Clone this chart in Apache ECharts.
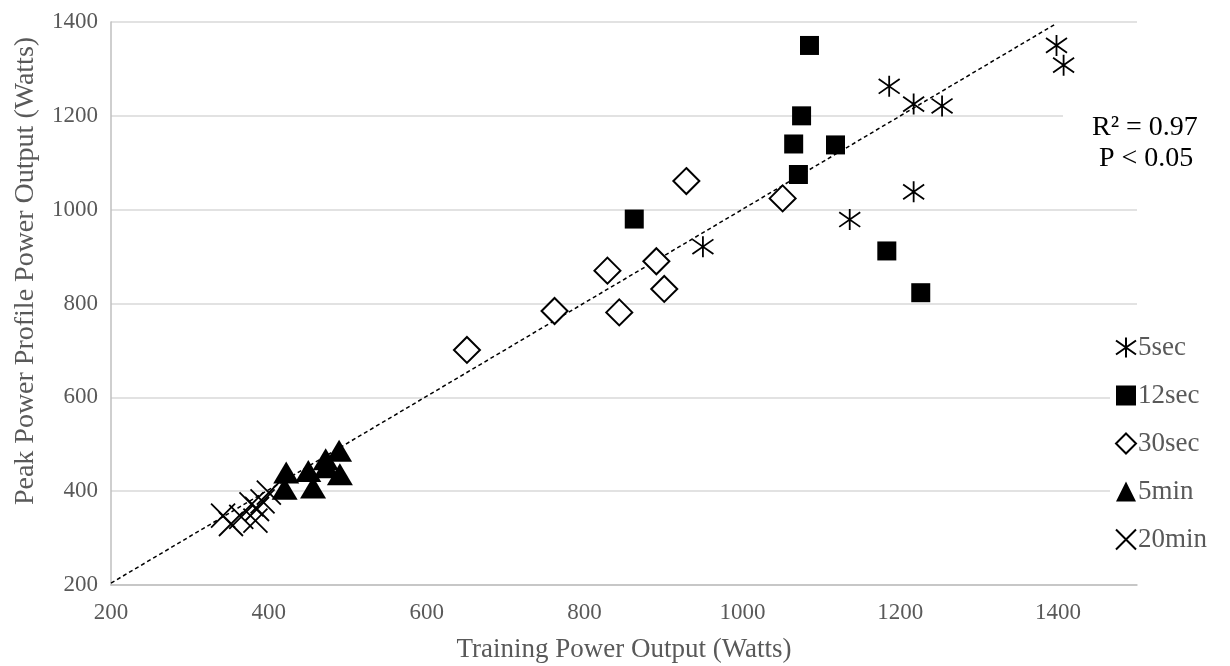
<!DOCTYPE html>
<html>
<head>
<meta charset="utf-8">
<script src="https://cdn.jsdelivr.net/npm/echarts@6/dist/echarts.min.js"></script>
<style>
html,body{margin:0;padding:0;background:#fff;}
#chart{width:1230px;height:666px;}
</style>
</head>
<body>
<div id="chart"></div>
<script>
// ---- data ----
const seriesNames = ['5sec', '12sec', '30sec', '5min', '20min'];
const sec5 = [[1398,1350],[1407,1308],[1186,1263],[1217,1225],[1253,1221],[1217,1038],[1136,979],[950,921]];
const sec12 = [[1085,1350],[1075,1200],[1065,1140],[1118,1138],[1071,1075],[863,980],[1183,912],[1226,823]];
const sec30 = [[929,1061],[1051,1024],[829,870],[891,890],[901,831],[844,781],[762,784],[651,701]];
const min5 = [[422,440],[420,405],[450,443],[456,408],[472,468],[489,486],[473,451],[490,436]];
const min20 = [[342,348],[352,330],[365,345],[383,337],[385,362],[392,378],[400,397],[378,372]];
const trendLine = [[200,204],[1396,1395]];
const xTitle = 'Training Power Output (Watts)';
const yTitle = 'Peak Power Profile Power Output (Watts)';
const statLines = ['R² = 0.97', 'P < 0.05'];

// ---- styles ----
const FONT = '"Liberation Serif", "Times New Roman", serif';
const starPath = 'path://M0 3L20 17M20 3L0 17M10 0L10 20';
const crossPath = 'path://M0 0L20 20M20 0L0 20';
const lineIcon = {color: 'rgba(0,0,0,0)', borderColor: '#000', borderWidth: 2, opacity: 1};
const plain = v => String(v);

const chart = echarts.init(document.getElementById('chart'), null, {renderer: 'canvas'});
chart.setOption({
  animation: false,
  backgroundColor: '#fff',
  grid: {left: 111, right: 93, top: 22, bottom: 81, containLabel: false, outerBoundsMode: 'none'},
  xAxis: {
    type: 'value', min: 200, max: 1500, interval: 200,
    name: xTitle, nameLocation: 'middle', nameGap: 51,
    nameTextStyle: {fontFamily: FONT, fontSize: 27, color: '#595959'},
    axisLine: {show: true, lineStyle: {color: '#bfbfbf', width: 1.5}},
    axisTick: {show: false},
    axisLabel: {fontFamily: FONT, fontSize: 23, color: '#595959', margin: 16, showMaxLabel: false, formatter: plain},
    splitLine: {show: false}
  },
  yAxis: {
    type: 'value', min: 200, max: 1400, interval: 200,
    axisLine: {show: true, lineStyle: {color: '#bfbfbf', width: 1.5}},
    axisTick: {show: false},
    axisLabel: {fontFamily: FONT, fontSize: 23, color: '#595959', margin: 13, formatter: plain},
    splitLine: {show: true, lineStyle: {color: '#d9d9d9', width: 1.5}}
  },
  legend: {
    orient: 'vertical', left: 1110, top: 331,
    padding: [3, 5, 3, 5], backgroundColor: '#fff',
    itemWidth: 20, itemHeight: 20, itemGap: 21,
    textStyle: {fontFamily: FONT, fontSize: 27, color: '#595959', lineHeight: 26, padding: [0,0,0,-3]},
    data: [
      {name: '5sec', icon: starPath, itemStyle: lineIcon},
      {name: '12sec', icon: 'rect', itemStyle: {color: '#000', opacity: 1}},
      {name: '30sec', icon: 'diamond', itemStyle: lineIcon},
      {name: '5min', icon: 'triangle', itemStyle: {color: '#000', opacity: 1}},
      {name: '20min', icon: crossPath, itemStyle: lineIcon}
    ]
  },
  graphic: [
    {type: 'text', z: 6, x: 26, y: 271, rotation: Math.PI / 2,
     style: {text: yTitle, font: '28px ' + FONT, fill: '#595959', textAlign: 'center', textVerticalAlign: 'middle'}},
    {type: 'rect', z: 5, shape: {x: 1063, y: 108, width: 80, height: 14}, style: {fill: '#fff'}},
    {type: 'text', z: 6, left: 1092, top: 114, style: {text: statLines[0], font: '28px ' + FONT, fill: '#000'}},
    {type: 'text', z: 6, left: 1099, top: 145, style: {text: statLines[1], font: '28px ' + FONT, fill: '#000'}}
  ],
  series: [
    {name: 'trend', type: 'line', data: trendLine, showSymbol: false, silent: true, z: 1,
     lineStyle: {color: '#000', width: 1.5, type: [4, 3]}},
    {name: seriesNames[0], type: 'scatter', data: sec5, symbol: starPath, symbolSize: 21, z: 3,
     itemStyle: {color: 'rgba(0,0,0,0)', borderColor: '#000', borderWidth: 1.8, opacity: 1}},
    {name: seriesNames[1], type: 'scatter', data: sec12, symbol: 'rect', symbolSize: 19, z: 3,
     itemStyle: {color: '#000', opacity: 1}},
    {name: seriesNames[2], type: 'scatter', data: sec30, symbol: 'diamond', symbolSize: 26, z: 3,
     itemStyle: {color: '#fff', borderColor: '#000', borderWidth: 2, opacity: 1}},
    {name: seriesNames[3], type: 'scatter', data: min5, symbol: 'triangle', symbolSize: [26, 22], z: 3,
     itemStyle: {color: '#000', opacity: 1}},
    {name: seriesNames[4], type: 'scatter', data: min20, symbol: crossPath, symbolSize: 24, z: 3,
     itemStyle: {color: 'rgba(0,0,0,0)', borderColor: '#000', borderWidth: 1.8, opacity: 1}}
  ]
});
</script>
</body>
</html>
